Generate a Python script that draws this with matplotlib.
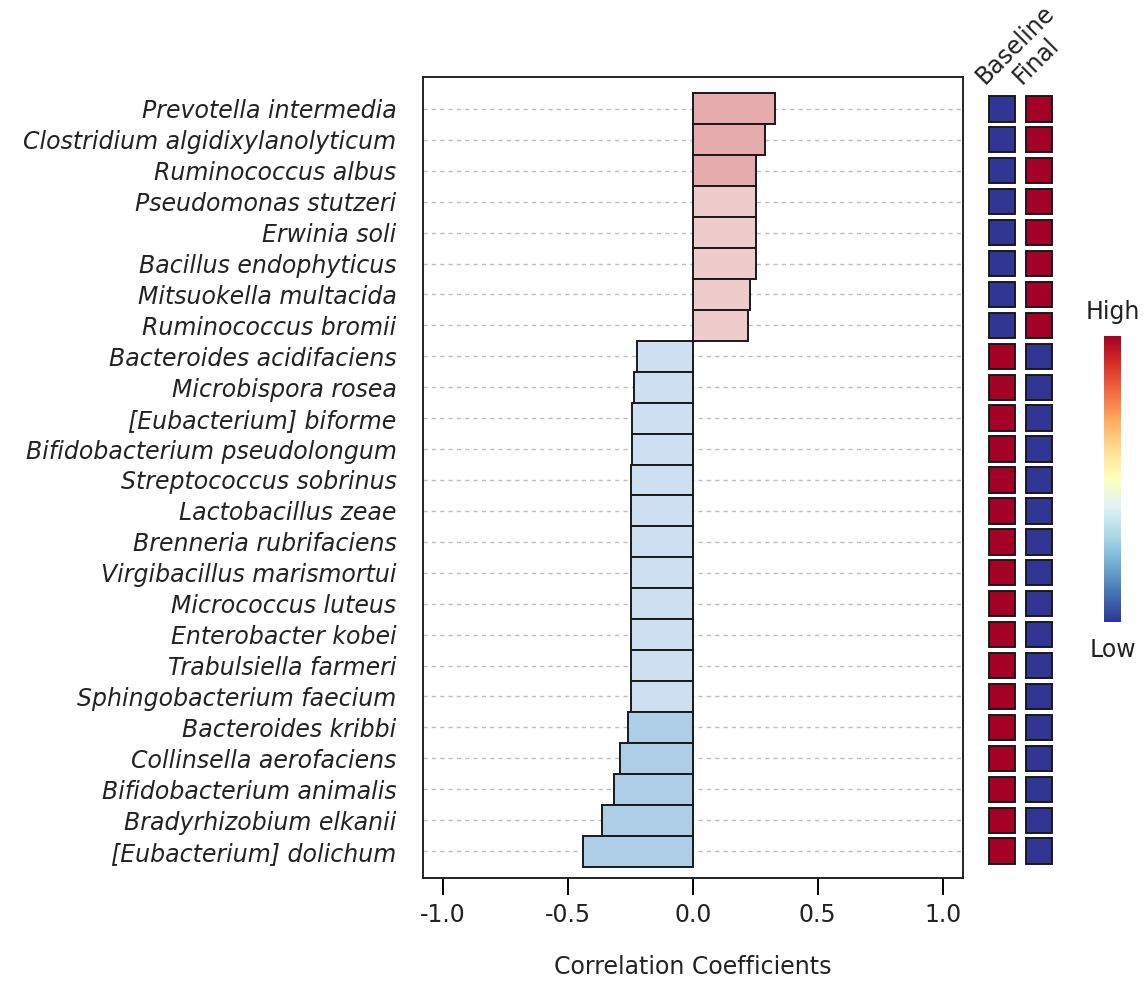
import matplotlib.pyplot as plt
import numpy as np
from matplotlib.patches import Rectangle

plt.rcParams['font.family'] = ['DejaVu Sans']

species = ['Prevotella intermedia', 'Clostridium algidixylanolyticum', 'Ruminococcus albus',
           'Pseudomonas stutzeri', 'Erwinia soli', 'Bacillus endophyticus',
           'Mitsuokella multacida', 'Ruminococcus bromii', 'Bacteroides acidifaciens',
           'Microbispora rosea', '[Eubacterium] biforme', 'Bifidobacterium pseudolongum',
           'Streptococcus sobrinus', 'Lactobacillus zeae', 'Brenneria rubrifaciens',
           'Virgibacillus marismortui', 'Micrococcus luteus', 'Enterobacter kobei',
           'Trabulsiella farmeri', 'Sphingobacterium faecium', 'Bacteroides kribbi',
           'Collinsella aerofaciens', 'Bifidobacterium animalis', 'Bradyrhizobium elkanii',
           '[Eubacterium] dolichum']
corr = [0.33, 0.288, 0.255, 0.252, 0.252, 0.252, 0.228, 0.22, -0.222, -0.236,
        -0.244, -0.245, -0.248, -0.248, -0.248, -0.248, -0.248, -0.248, -0.248,
        -0.248, -0.26, -0.292, -0.316, -0.364, -0.44]
bar_colors = ['#e6abad'] * 3 + ['#f0cbcc'] * 5 + ['#cddff0'] * 12 + ['#aecde6'] * 5
baseline = [0] * 8 + [1] * 17   # 0 = low, 1 = high
final = [1] * 8 + [0] * 17

fs = 17
txt = '#222222'

fig = plt.figure(figsize=(11.46, 9.83), dpi=100)
ax = fig.add_axes([0.369, 0.1068, 0.471, 0.815])
y = np.arange(len(species))

for yi in y:
    ax.axhline(yi, color='#bdbdbd', lw=1, ls=(0, (3, 3)), zorder=0)
ax.barh(y, corr, height=1.0, color=bar_colors, edgecolor='#1a1a1a', lw=1.4, zorder=2)
ax.set_xlim(-1.08, 1.08)
ax.set_ylim(24.87, -1.035)
ax.set_yticks(y)
ax.set_yticklabels(species, fontsize=fs, style='italic', color=txt)
ax.tick_params(axis='y', length=0, pad=19)
ax.set_xticks([-1.0, -0.5, 0.0, 0.5, 1.0])
ax.set_xticklabels(['-1.0', '-0.5', '0.0', '0.5', '1.0'], fontsize=fs, color=txt)
ax.tick_params(axis='x', length=12, width=1.4, pad=6)
ax.set_xlabel('Correlation Coefficients', fontsize=fs, color=txt, labelpad=20)
for s in ax.spines.values():
    s.set_linewidth(1.4)
    s.set_color(txt)

# heatmap of baseline / final abundance
cmap = plt.get_cmap('RdYlBu_r')
hx = fig.add_axes([983 / 1146, 0.1068, 75 / 1146, 0.815])
hx.set_xlim(-0.5, 1.5)
hx.set_ylim(24.87, -1.035)
for j, col in enumerate([baseline, final]):
    for yi, v in zip(y, col):
        hx.add_patch(Rectangle((j - 0.345, yi - 0.41), 0.69, 0.82,
                               facecolor=cmap(float(v)), edgecolor='#1a1a1a', lw=1.4))
hx.axis('off')
fig.text(988 / 1146, 1 - 89 / 983, 'Baseline', rotation=45, fontsize=fs,
         ha='left', va='bottom', rotation_mode='anchor', color=txt)
fig.text(1025 / 1146, 1 - 89 / 983, 'Final', rotation=45, fontsize=fs,
         ha='left', va='bottom', rotation_mode='anchor', color=txt)

# colour key
cx = fig.add_axes([1104 / 1146, 1 - 622 / 983, 17 / 1146, 286 / 983])
grad = np.linspace(1, 0, 256).reshape(-1, 1)
cx.imshow(grad, cmap=cmap, aspect='auto')
cx.axis('off')
fig.text(1113 / 1146, 1 - 312 / 983, 'High', ha='center', va='center', fontsize=fs, color=txt)
fig.text(1113 / 1146, 1 - 650 / 983, 'Low', ha='center', va='center', fontsize=fs, color=txt)

fig.savefig('out.png', dpi=100)
